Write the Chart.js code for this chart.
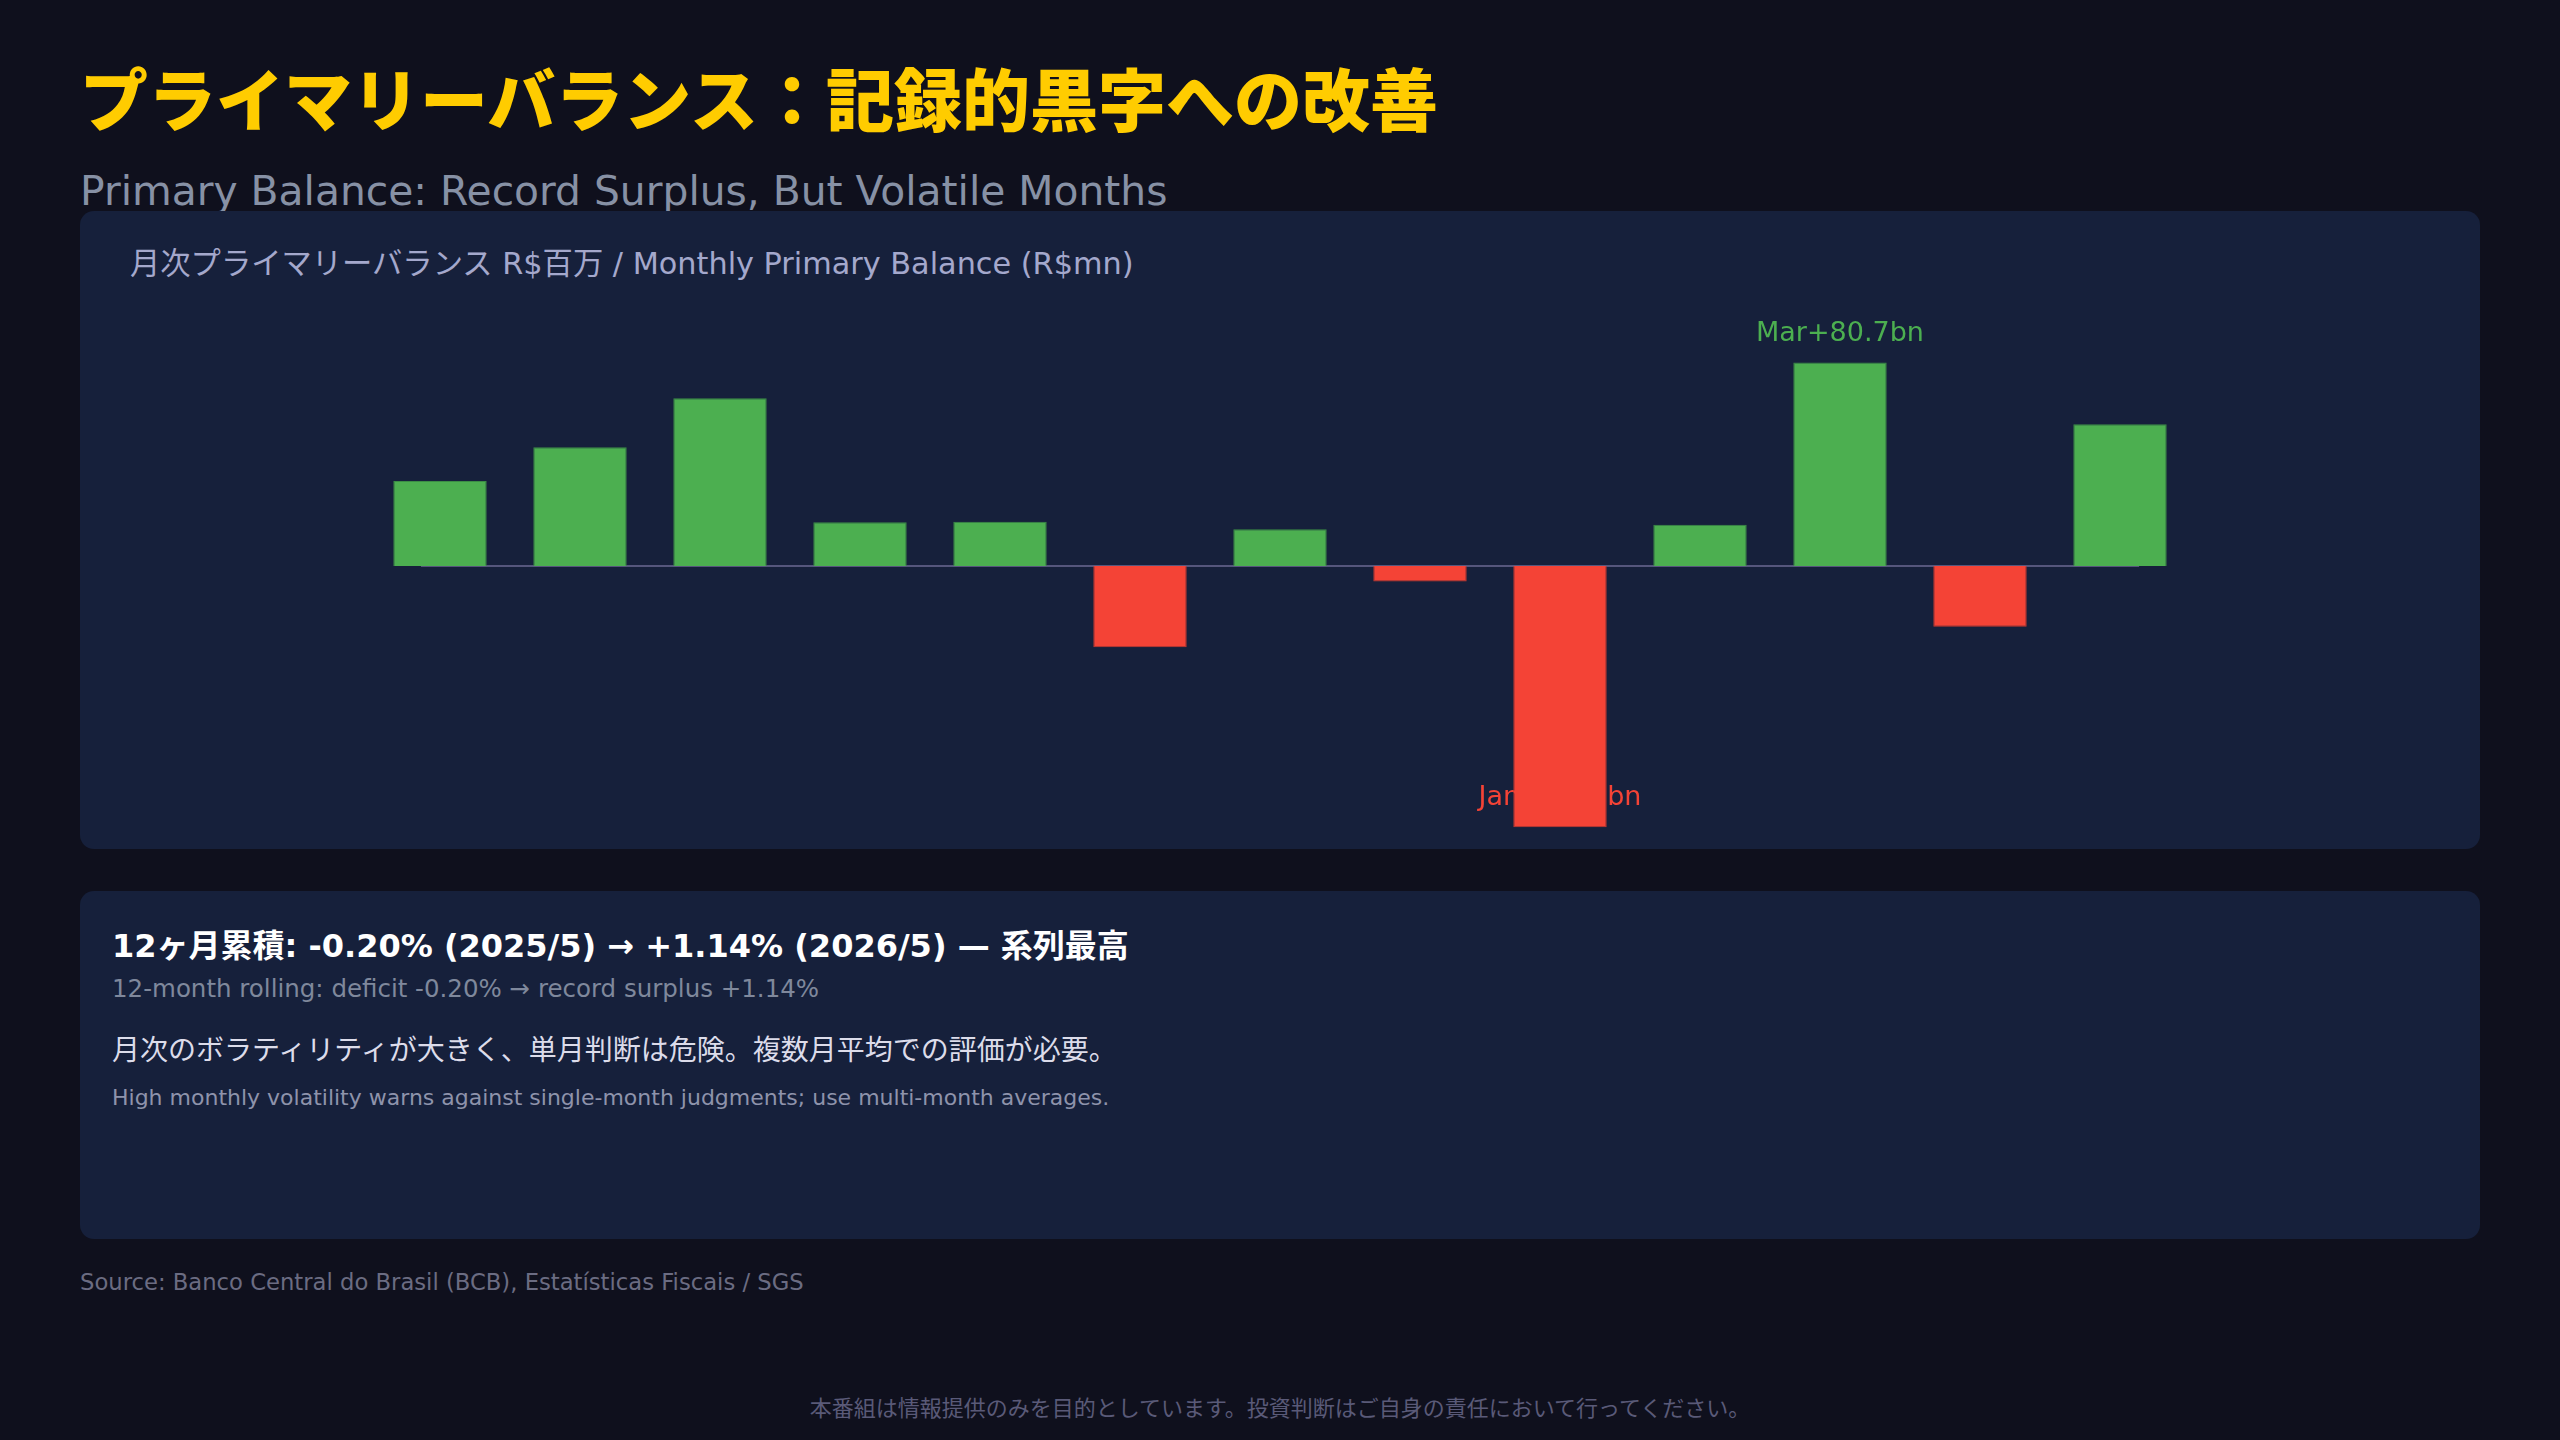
<!DOCTYPE html>
<html lang="ja">
<head>
<meta charset="utf-8">
<title>Primary Balance</title>
<script src="https://cdn.jsdelivr.net/npm/chart.js@4.4.1/dist/chart.umd.min.js"></script>
<style>
  html, body {
    margin: 0;
    padding: 0;
    width: 2560px;
    height: 1440px;
    background: #0f101d;
    font-family: "DejaVu Sans", "Noto Sans CJK JP", sans-serif;
    overflow: hidden;
  }
  .abs { position: absolute; white-space: nowrap; }
  #title {
    left: 80px; top: 60px;
    font-family: "Noto Sans CJK JP", sans-serif;
    font-size: 68px; line-height: 74px; font-weight: 900;
    color: #ffcc00;
  }
  #subtitle {
    left: 80px; top: 167px;
    font-size: 40.8px; line-height: 48px;
    color: #8791a5;
  }
  .panel {
    position: absolute;
    left: 80px; width: 2400px;
    background: #16203b;
    border-radius: 14px;
  }
  #chartPanel { top: 211px; height: 638px; }
  #notePanel { top: 891px; height: 348px; }
  #chartTitle {
    left: 130px; top: 245px;
    font-size: 30.3px; line-height: 38px;
    color: #a4a8cc;
  }
  #chartBox {
    position: absolute;
    left: 80px; top: 314px;
    width: 2400px; height: 529px;
  }
  #n1 { left: 112px; top: 925px; font-size: 32px; line-height: 42px; font-weight: 700; color: #ffffff; }
  #n2 { left: 112px; top: 973px; font-size: 24.5px; line-height: 32px; color: #7f889c; }
  #n3 { left: 112px; top: 1034px; font-size: 28px; line-height: 34px; color: #dcdcea; }
  #n4 { left: 112px; top: 1083px; font-size: 22px; line-height: 30px; color: #8e93ab; }
  #source { left: 80px; top: 1267px; font-size: 22.7px; line-height: 30px; color: #6b6c82; }
  #footer {
    left: 0; width: 2560px; top: 1392px; text-align: center;
    font-family: "Noto Sans CJK JP", sans-serif;
    font-size: 22px; line-height: 28px; color: #5a5a78;
  }
</style>
</head>
<body>
<div class="abs" id="title">プライマリーバランス：記録的黒字への改善</div>
<div class="abs" id="subtitle">Primary Balance: Record Surplus, But Volatile Months</div>

<div class="panel" id="chartPanel"></div>
<div class="abs" id="chartTitle">月次プライマリーバランス R$百万 / Monthly Primary Balance (R$mn)</div>
<div id="chartBox"><canvas id="pbChart"></canvas></div>

<div class="panel" id="notePanel"></div>
<div class="abs" id="n1">12ヶ月累積: -0.20% (2025/5) → +1.14% (2026/5) — 系列最高</div>
<div class="abs" id="n2">12-month rolling: deficit -0.20% → record surplus +1.14%</div>
<div class="abs" id="n3">月次のボラティリティが大きく、単月判断は危険。複数月平均での評価が必要。</div>
<div class="abs" id="n4">High monthly volatility warns against single-month judgments; use multi-month averages.</div>

<div class="abs" id="source">Source: Banco Central do Brasil (BCB), Estatísticas Fiscais / SGS</div>
<div class="abs" id="footer">本番組は情報提供のみを目的としています。投資判断はご自身の責任において行ってください。</div>

<script>
// monthly primary balance, R$ million (May 2025 - May 2026)
const months = ['May', 'Jun', 'Jul', 'Aug', 'Sep', 'Oct', 'Nov', 'Dec', 'Jan', 'Feb', 'Mar', 'Apr', 'May'];
const balance = [33700, 47100, 66600, 17300, 17500, -32300, 14600, -6200, -103700, 16300, 80700, -24200, 56200];
// months that get a value label
const labelled = [8, 10];

const GREEN = '#4caf50';
const RED = '#f44336';

// zero line, drawn under the bars
const zeroLine = {
    id: 'zeroLine',
    beforeDatasetsDraw(chart) {
        const { ctx, scales } = chart;
        const step = scales.x.getPixelForValue(1) - scales.x.getPixelForValue(0);
        const y = scales.y.getPixelForValue(0);
        ctx.save();
        ctx.strokeStyle = '#55567c';
        ctx.lineWidth = 2;
        ctx.beginPath();
        ctx.moveTo(scales.x.getPixelForValue(0) - step * 0.136, y);
        ctx.lineTo(scales.x.getPixelForValue(months.length - 1) + step * 0.136, y);
        ctx.stroke();
        ctx.restore();
    }
};

// value labels (drawn before the bars, so the Jan bar covers its own label)
const valueLabels = {
    id: 'valueLabels',
    beforeDatasetsDraw(chart) {
        const { ctx } = chart;
        const meta = chart.getDatasetMeta(0);
        ctx.save();
        ctx.font = '27px "DejaVu Sans", sans-serif';
        ctx.textAlign = 'center';
        ctx.textBaseline = 'middle';
        labelled.forEach(i => {
            const v = balance[i];
            const bar = meta.data[i];
            const txt = months[i] + (v >= 0 ? '+' : '-') + (Math.abs(v) / 1000).toFixed(1) + 'bn';
            ctx.fillStyle = v >= 0 ? GREEN : RED;
            ctx.fillText(txt, bar.x, bar.y - 29);
        });
        ctx.restore();
    }
};

new Chart(document.getElementById('pbChart'), {
    type: 'bar',
    data: {
        labels: months,
        datasets: [{
            data: balance,
            backgroundColor: balance.map(v => v >= 0 ? GREEN : RED),
            borderColor: balance.map(v => v >= 0 ? '#3b8d45' : '#c8382f'),
            borderWidth: 1,
            categoryPercentage: 0.8,
            barPercentage: 0.834
        }]
    },
    options: {
        responsive: true,
        maintainAspectRatio: false,
        animation: false,
        layout: { padding: { left: 290, right: 290, top: 0, bottom: 0 } },
        plugins: {
            legend: { display: false },
            tooltip: { enabled: false }
        },
        scales: {
            x: { display: false },
            y: { display: false, min: -110000, max: 100000 }
        }
    },
    plugins: [zeroLine, valueLabels]
});
</script>
</body>
</html>
